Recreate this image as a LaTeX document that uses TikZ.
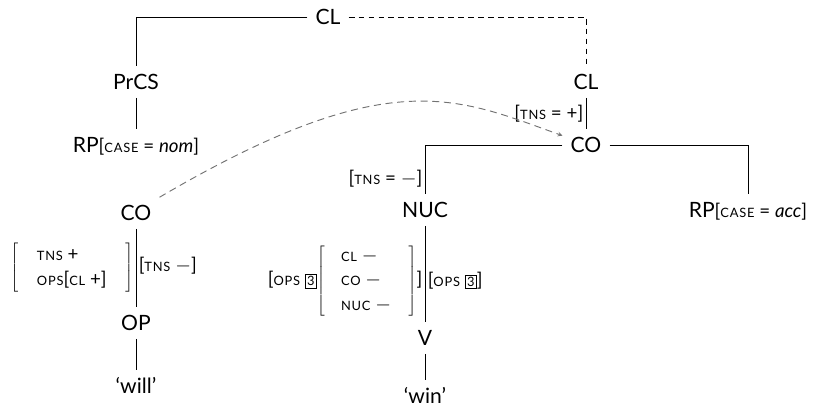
\documentclass[tikz,border=0pt]{standalone}
\usepackage{fontspec}
\setmainfont{Lato}
\newfontfamily\scfont[LetterSpace=6]{Lato}
\newcommand\fsc[1]{{\scfont\fontsize{11}{13}\selectfont #1}}
\newcommand\ftsz{\fontsize{16}{19}\selectfont}
\newcommand\boxnum[1]{{\setlength\fboxsep{1.5pt}\fbox{\fontsize{11}{12}\selectfont #1}}}
\renewcommand{\arraystretch}{1.1}

\begin{document}
\begin{tikzpicture}[
    x=0.03cm, y=-0.03cm,
    font=\fontsize{18}{20}\selectfont,
    cat/.style={inner sep=0pt, outer sep=7pt, text height=12.9pt, text depth=0pt},
    branch/.style={line width=0.7pt},
    link/.style={line width=0.7pt, dash pattern=on 5pt off 3.5pt},
    move/.style={->, >=stealth, line width=0.8pt, black!55, dash pattern=on 6pt off 4pt},
    feat/.style={font=\ftsz, inner sep=2pt}
]
\useasboundingbox (0,0) rectangle (813,412);

% Satz mit Praekern
\node[cat] (cl) at (328,17) {CL};
\node[cat] (prcs) at (136,82) {PrCS};
\node[cat] (rpnom) at (136,145) {RP{\ftsz[\fsc{CASE} = \textit{nom}]}};
\node[cat] (clr) at (586,82) {CL};
\node[cat] (cor) at (586,145) {CO};
\node[cat] (rpacc) at (748,210) {RP{\ftsz[\fsc{CASE} = \textit{acc}]}};
\node[cat] (nuc) at (425,210) {NUC};
\node[cat] (v) at (425,338) {V};
\node[cat] (win) at (425,396) {`win'};

% Operator-Baum
\node[cat] (col) at (136,213) {CO};
\node[cat] (op) at (136,323) {OP};
\node[cat] (will) at (136,386) {`will'};

% Aeste
\draw[branch] (cl.west) -| (prcs.north);
\draw[branch] (prcs.south) -- (rpnom.north);
\draw[link] (cl.east) -| (clr.north);
\draw[branch] (clr.south) -- node[feat, left]{[\fsc{TNS} = +]} (cor.north);
\draw[branch] (cor.west) -| node[feat, left, pos=0.84]{[\fsc{TNS} = $-$]} (nuc.north);
\draw[branch] (cor.east) -| (rpacc.north);
\draw[branch] (nuc.south) --
  node[feat, left, pos=0.57]{[\fsc{OPS} \boxnum{3}$\left[\begin{tabular}{@{\hspace{14pt}}l@{\hspace{15pt}}}\fsc{CL} $-$\\ \fsc{CO} $-$\\ \fsc{NUC} $-$\end{tabular}\right]$]}
  node[feat, right, pos=0.57]{[\fsc{OPS} \boxnum{3}]} (v.north);
\draw[branch] (v.south) -- (win.north);
\draw[branch] (col.south) --
  node[feat, left]{$\left[\begin{tabular}{@{\hspace{16pt}}l@{\hspace{16pt}}}\fsc{TNS} +\\ \fsc{OPS}[\fsc{CL} +]\end{tabular}\right]$}
  node[feat, right, yshift=2pt]{[\fsc{TNS} $-$]} (op.north);
\draw[branch] (op.south) -- (will.north);

% Verschiebung
\draw[move] (col.north east) .. controls (390,62) and (457,98) .. ([yshift=8pt]cor.west);

\end{tikzpicture}
\end{document}
